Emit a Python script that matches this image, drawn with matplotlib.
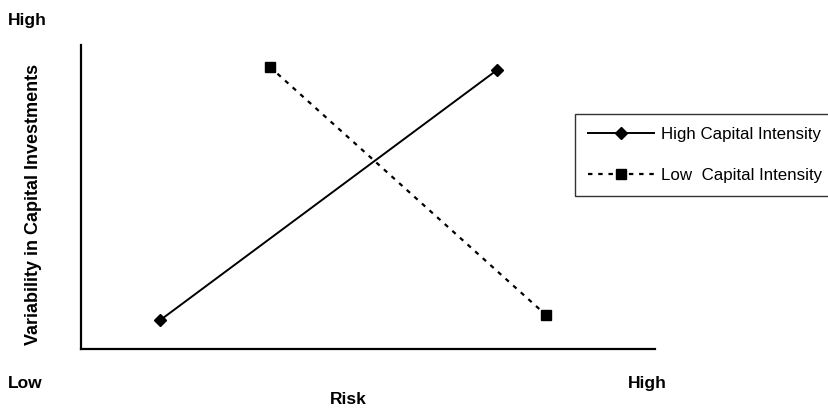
import matplotlib
matplotlib.use("Agg")
import matplotlib.pyplot as plt

series_names = ["High Capital Intensity", "Low  Capital Intensity"]
high_x = [1.38, 7.25]
high_y = [0.95, 9.18]
low_x = [3.29, 8.10]
low_y = [9.28, 1.12]

plt.rcParams['font.family'] = ['Liberation Sans', 'DejaVu Sans']

fig = plt.figure(figsize=(8.29, 4.11), dpi=100)
W, H = 829, 411
l, r, b, t = 81, 655, 349, 45
ax = fig.add_axes([l / W, 1 - b / H, (r - l) / W, (b - t) / H])
ax.set_xlim(0, 10)
ax.set_ylim(0, 10)
for s in ['top', 'right']:
    ax.spines[s].set_visible(False)
ax.spines['left'].set_linewidth(1.6)
ax.spines['bottom'].set_linewidth(1.6)
ax.set_xticks([])
ax.set_yticks([])

ax.plot(high_x, high_y, color='black', lw=1.4, marker='D', markersize=6.5,
        label=series_names[0])
ax.plot(low_x, low_y, color='black', lw=1.6, linestyle=(0, (2, 2.6)),
        marker='s', markersize=7.5, label=series_names[1])

leg = ax.legend(loc='upper left', bbox_to_anchor=((575 - l) / (r - l), (b - 114) / (b - t)),
                frameon=True, fancybox=False, edgecolor='black', fontsize=12.2,
                handlelength=3.9, borderpad=0.75, labelspacing=1.55, handletextpad=0.4,
                borderaxespad=0)
leg.get_frame().set_linewidth(1.0)
for txt in leg.get_texts():
    txt.set_color('black')

fw = 'bold'
fig.text(8 / W, 1 - 21 / H, "High", fontsize=12.5, fontweight=fw, va='center', ha='left')
fig.text(8 / W, 1 - 383 / H, "Low", fontsize=12.5, fontweight=fw, va='center', ha='left')
fig.text(628 / W, 1 - 383 / H, "High", fontsize=12.5, fontweight=fw, va='center', ha='left')
fig.text(348 / W, 1 - 399 / H, "Risk", fontsize=12.5, fontweight=fw, va='center', ha='center')
fig.text(34 / W, 1 - 204 / H, "Variability in Capital Investments", fontsize=13,
         fontweight=fw, va='center', ha='center', rotation=90)

fig.savefig("out.png", dpi=100)
